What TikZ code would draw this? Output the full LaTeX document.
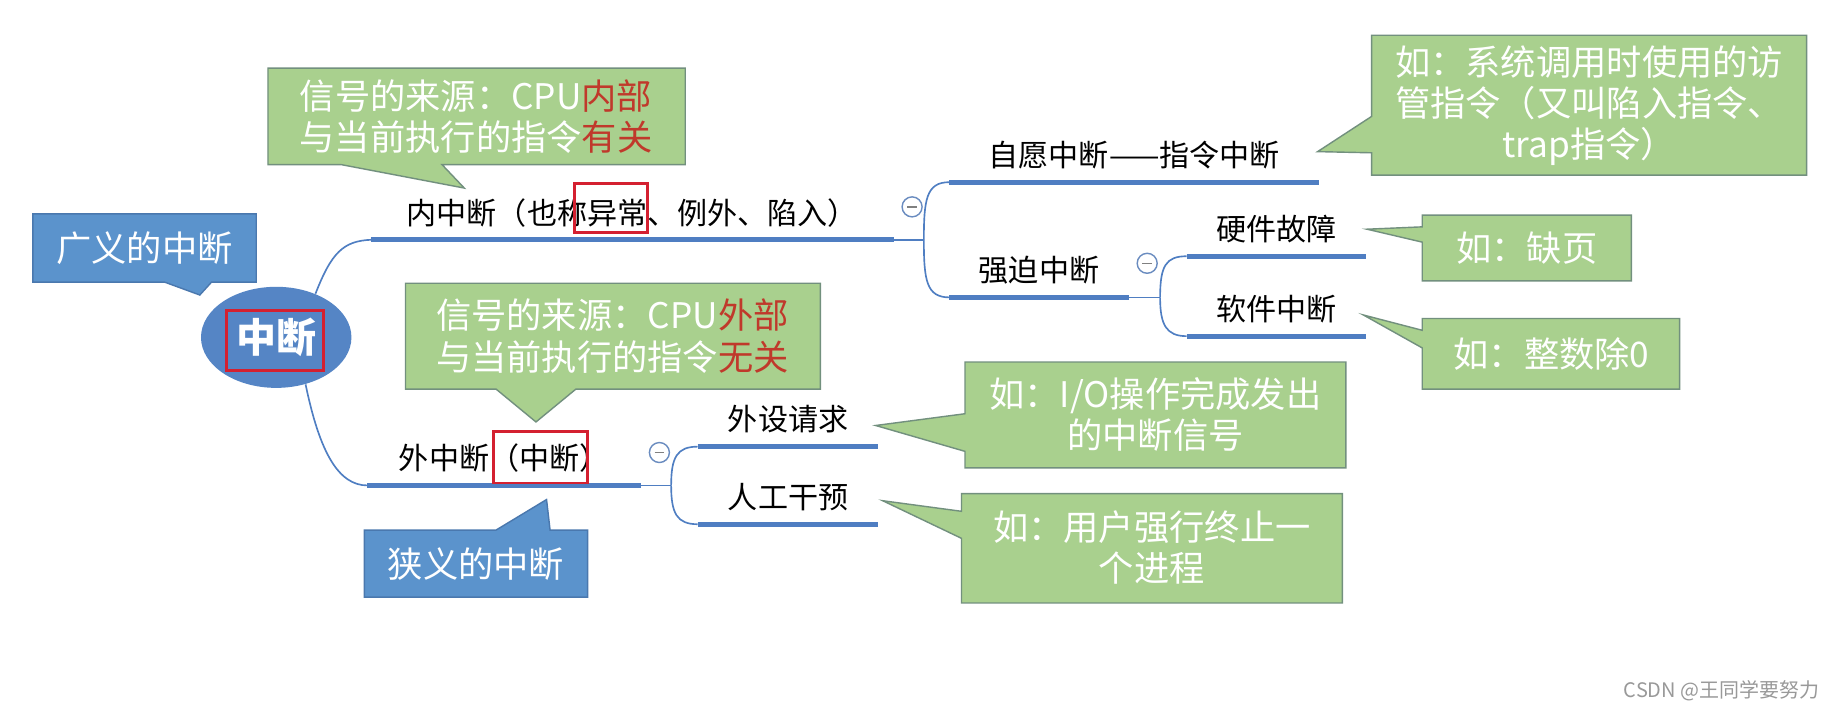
\documentclass[tikz,border=0pt]{standalone}
\usepackage{fontspec}
\setmainfont{Noto Sans CJK SC}
\usetikzlibrary{shapes.geometric}

\definecolor{mapblue}{HTML}{4F7EC2}
\definecolor{rootblue}{HTML}{5585C5}
\definecolor{boxblue}{HTML}{5B93CC}
\definecolor{blueedge}{HTML}{4A78AE}
\definecolor{boxgreen}{HTML}{A9D08E}
\definecolor{greenedge}{HTML}{72907E}
\definecolor{foldblue}{HTML}{6A8CC0}
\definecolor{markred}{HTML}{D42030}
\definecolor{textred}{HTML}{C0392B}

\begin{document}
\begin{tikzpicture}[x=0.5pt, y=-0.5pt,
    topic/.style={font=\fontsize{12.8}{15}\selectfont, text height=10pt, text depth=3pt,
        inner xsep=0pt, inner ysep=3.5pt, anchor=south, minimum width=#1},
    bar/.style={mapblue, line width=2pt},
    branch/.style={mapblue, line width=0.7pt},
    greencall/.style={fill=boxgreen, draw=greenedge, line width=0.6pt},
    bluecall/.style={fill=boxblue, draw=blueedge, line width=0.6pt},
    calltext/.style={text=white, font=\fontsize{15}{17.5}\selectfont, align=center, inner sep=0pt},
    fold/.style={circle, draw=foldblue, fill=white, line width=0.6pt, minimum size=8.5pt, inner sep=0pt,
        path picture={\draw[gray, line width=0.6pt]
            ([xshift=-2pt]path picture bounding box.center) -- ([xshift=2pt]path picture bounding box.center);}},
    redmark/.style={draw=markred, line width=1.2pt}]

    \path[fill=white] (0,0) rectangle (1568,605);

    % callouts
    \path[greencall] (228,58) -- (583,58) -- (583,140) -- (376,140) -- (395,160) -- (290,140) -- (228,140) -- cycle;
    \path[greencall] (1167,30) -- (1537,30) -- (1537,149) -- (1167,149) -- (1167,130) -- (1121,129) -- (1167,99) -- cycle;
    \path[greencall] (1210,183) -- (1388,183) -- (1388,239) -- (1210,239) -- (1210,206) -- (1163,195) -- (1210,193) -- cycle;
    \path[greencall] (1210,271) -- (1429,271) -- (1429,331) -- (1210,331) -- (1210,296) -- (1160,268) -- (1210,281) -- cycle;
    \path[greencall] (345,241) -- (698,241) -- (698,331) -- (490,331) -- (456,359) -- (422,331) -- (345,331) -- cycle;
    \path[greencall] (821,308) -- (1145,308) -- (1145,398) -- (821,398) -- (821,384) -- (745,362) -- (821,352) -- cycle;
    \path[greencall] (818,420) -- (1142,420) -- (1142,513) -- (818,513) -- (818,458) -- (751,426) -- (818,435) -- cycle;
    \path[bluecall] (28,182) -- (218,182) -- (218,240) -- (180,240) -- (170,251) -- (140,240) -- (28,240) -- cycle;
    \path[bluecall] (310,451) -- (422,451) -- (465,425) -- (468,451) -- (500,451) -- (500,508) -- (310,508) -- cycle;

    \node[calltext] (srcin) at (405,99) {信号的来源：CPU{\color{textred}内部}\\与当前执行的指令{\color{textred}有关}};
    \node[calltext] (trapnote) at (1352,90) {如：系统调用时使用的访\\管指令（又叫陷入指令、\\trap指令）};
    \node[calltext] (pagenote) at (1299,211) {如：缺页};
    \node[calltext] (divnote) at (1320,301) {如：整数除0};
    \node[calltext] (srcout) at (521,286) {信号的来源：CPU{\color{textred}外部}\\与当前执行的指令{\color{textred}无关}};
    \node[calltext] (ionote) at (983,353) {如：I/O操作完成发出\\的中断信号};
    \node[calltext] (killnote) at (980,466) {如：用户强行终止一\\个进程};
    \node[calltext] (broad) at (123,211) {广义的中断};
    \node[calltext] (narrow) at (405,480) {狭义的中断};

    % map
    \node[ellipse, fill=rootblue, minimum width=64pt, minimum height=43pt, inner sep=0pt, text=white,
        font=\fontsize{17}{20}\selectfont\bfseries] (root) at (235,287) {中断};

    \node[topic=222pt] (nei) at (538,204) {内中断（也称异常、例外、陷入）};
    \node[topic=116pt] (wai) at (429,413) {外中断（中断）};
    \node[topic=157pt] (ziyuan) at (965,155) {自愿中断——指令中断};
    \node[topic=76pt] (qiangpo) at (884,253) {强迫中断};
    \node[topic=76pt] (yingjian) at (1086,218) {硬件故障};
    \node[topic=76pt] (ruanjian) at (1086,286) {软件中断};
    \node[topic=76.5pt] (waishe) at (670.5,380) {外设请求};
    \node[topic=76.5pt] (rengong) at (670.5,446) {人工干预};

    \coordinate (j1) at (786,204);
    \coordinate (j2) at (987,253);
    \coordinate (j3) at (571,413);

    \draw[branch] (root.48) .. controls (282,215) and (292,205) .. (nei.south west);
    \draw[branch] (root.-58) .. controls (272,385) and (288,413) .. (wai.south west);
    \draw[branch] (nei.south east) -- (j1);
    \draw[branch] (j1) .. controls (786,170) and (788,155) .. (ziyuan.south west);
    \draw[branch] (j1) .. controls (786,238) and (788,253) .. (qiangpo.south west);
    \draw[branch] (qiangpo.south east) -- (j2);
    \draw[branch] (j2) .. controls (987,226) and (992,218) .. (yingjian.south west);
    \draw[branch] (j2) .. controls (987,276) and (992,286) .. (ruanjian.south west);
    \draw[branch] (wai.south east) -- (j3);
    \draw[branch] (j3) .. controls (571,389) and (576,380) .. (waishe.south west);
    \draw[branch] (j3) .. controls (571,437) and (576,446) .. (rengong.south west);

    \foreach \n in {nei, wai, ziyuan, qiangpo, yingjian, ruanjian, waishe, rengong}
        \draw[bar] (\n.south west) -- (\n.south east);

    \node[fold] (fold1) at (776,176) {};
    \node[fold] (fold2) at (976,224) {};
    \node[fold] (fold3) at (561,385) {};

    \draw[redmark] (193,264) rectangle (275,315);
    \draw[redmark] (489,156) rectangle (551,198);
    \draw[redmark] (420,367) rectangle (500,411);

    \node[anchor=east, text=gray!80, font=\fontsize{8.5}{10}\selectfont] (credit) at (1555,588) {CSDN @王同学要努力};
\end{tikzpicture}
\end{document}
